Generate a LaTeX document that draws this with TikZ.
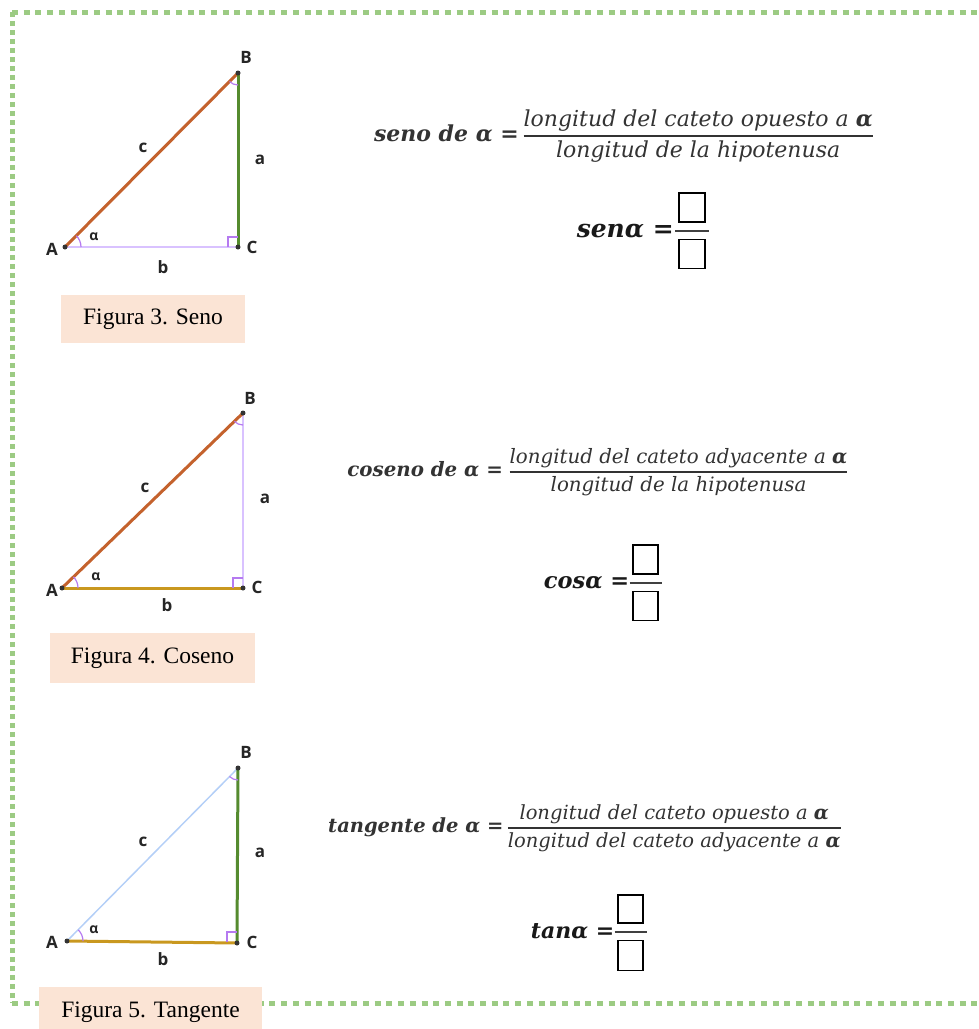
\RequirePackage{fix-cm}
\documentclass[tikz,border=0pt]{standalone}
\usepackage{amsmath, amssymb}
\usepackage{fontspec}
\usepackage{xcolor}
\usepackage{tikz}
\usetikzlibrary{positioning, calc}
\newfontfamily\labelfont{Open Sans}
\newfontfamily\captionfont{Liberation Serif}
\newfontfamily\eqfont{DejaVu Serif}
\definecolor{dotgreen}{HTML}{9CCB83}
\definecolor{hypo}{HTML}{C4622D}
\definecolor{opp}{HTML}{558B2F}
\definecolor{adj}{HTML}{C9981F}
\definecolor{lavender}{HTML}{D9C2FF}
\definecolor{markpurple}{HTML}{B57AF0}
\definecolor{skyline}{HTML}{B4CFF7}
\definecolor{capfill}{HTML}{FBE4D5}

\begin{document}
\begin{tikzpicture}[x=1pt, y=1pt,
  side/.style={line width=3pt},
  thinside/.style={line width=1.5pt, lavender},
  angmark/.style={line width=1.2pt, markpurple},
  vertex/.style={circle, fill=black!80, inner sep=0pt, minimum size=5pt},
  lbl/.style={font=\labelfont\bfseries\fontsize{17}{20}\selectfont, text=black!85, inner sep=1pt},
  alph/.style={font=\labelfont\bfseries\fontsize{14}{16}\selectfont, text=black!85, inner sep=1pt},
  figcap/.style={rectangle, fill=capfill, font=\captionfont\fontsize{23.5}{27}\selectfont, inner sep=0pt},
  eqn/.style={font=\eqfont\itshape\fontsize{#1}{#1}\selectfont, text=black!80, inner sep=0pt},
  eqn/.default=19.5,
  short/.style={font=\eqfont\bfseries\itshape\fontsize{#1}{#1}\selectfont, text=black!90, inner sep=0pt},
  short/.default=25,
  blank/.style={rectangle, draw=black, line width=1.6pt, minimum width=26pt, minimum height=29pt, inner sep=0pt},
  bar/.style={line width=1.8pt, black!75}
]
  \useasboundingbox (0,0) rectangle (979,-1029);

  % Dotted frame
  \draw[dotgreen, line width=5pt, dash pattern=on 6pt off 5.7pt] (12,-1003) -- (995,-1003);
  \draw[dotgreen, line width=5pt, dash pattern=on 6pt off 5.7pt] (12,-12) -- (995,-12);
  \draw[dotgreen, line width=5pt, dash pattern=on 5pt off 4pt] (12,-12) -- (12,-1003);

  % Figura 3: seno
  \coordinate (A1) at (65,-247);
  \coordinate (B1) at (238,-73);
  \coordinate (C1) at (238,-247);
  \draw[thinside] (A1) -- (C1);
  \draw[side, hypo] (A1) -- (B1);
  \draw[side, opp] (C1) -- (B1);
  \draw[angmark] ($(A1)!16pt!(C1)$) arc[start angle=0, end angle=45, radius=16pt];
  \draw[angmark] (B1) ++(225:12pt) arc[start angle=225, end angle=270, radius=12pt];
  \draw[angmark] ($(C1)+(-10,0)$) -- ++(0,10) -- ++(10,0);
  \foreach \p in {A1,B1,C1} \node[vertex] at (\p) {};
  \node[lbl] (tA1) at (52,-249) {A};
  \node[lbl] (tB1) at (246,-57) {B};
  \node[lbl] (tC1) at (252,-247) {C};
  \node[lbl] (ta1) at (260,-160) {a};
  \node[lbl] (tb1) at (163,-267) {b};
  \node[lbl] (tc1) at (143,-148) {c};
  \node[alph] (al1) at (94,-237) {α};
  \node[figcap, minimum width=184pt, minimum height=48pt] (fig3) at (153,-319) {Figura 3. Seno};

  \node[eqn=22] (seno) at (624,-136) {$\text{\bfseries seno de α =}\,\genfrac{}{}{1.4pt}{0}{\text{longitud del cateto opuesto a \bfseries α}}{\text{longitud de la hipotenusa}}$};
  \node[blank] (num1) at (692,-207.5) {};
  \node[blank, below=16pt of num1] (den1) {};
  \coordinate (bar1) at ($(num1.south)!0.5!(den1.north)$);
  \draw[bar] ([xshift=-17pt]bar1) -- ([xshift=17pt]bar1);
  \node[short, anchor=east] (sen) at ([xshift=-18pt]bar1) {senα =};

  % Figura 4: coseno
  \coordinate (A2) at (62,-588);
  \coordinate (B2) at (243,-413);
  \coordinate (C2) at (243,-588);
  \draw[thinside] (C2) -- (B2);
  \draw[side, hypo] (A2) -- (B2);
  \draw[side, adj] (A2) -- (C2);
  \draw[angmark] ($(A2)!16pt!(C2)$) arc[start angle=0, end angle=44, radius=16pt];
  \draw[angmark] (B2) ++(224:12pt) arc[start angle=224, end angle=270, radius=12pt];
  \draw[angmark] ($(C2)+(-10,0)$) -- ++(0,10) -- ++(10,0);
  \foreach \p in {A2,B2,C2} \node[vertex] at (\p) {};
  \node[lbl] (tA2) at (52,-590) {A};
  \node[lbl] (tB2) at (250,-398) {B};
  \node[lbl] (tC2) at (257,-587) {C};
  \node[lbl] (ta2) at (265,-499) {a};
  \node[lbl] (tb2) at (167,-605) {b};
  \node[lbl] (tc2) at (145,-488) {c};
  \node[alph] (al2) at (96,-577) {α};
  \node[figcap, minimum width=205pt, minimum height=50pt] (fig4) at (152.5,-658) {Figura 4. Coseno};

  \node[eqn=19.8] (coseno) at (598,-472) {$\text{\bfseries coseno de α =}\;\genfrac{}{}{1.3pt}{0}{\text{longitud del cateto adyacente a \bfseries α}}{\text{longitud de la hipotenusa}}$};
  \node[blank, minimum width=25pt] (num2) at (645.5,-559.5) {};
  \node[blank, minimum width=25pt, below=16pt of num2] (den2) {};
  \coordinate (bar2) at ($(num2.south)!0.5!(den2.north)$);
  \draw[bar] ([xshift=-16pt]bar2) -- ([xshift=16pt]bar2);
  \node[short=22.5, anchor=east] (cos) at ([xshift=-16pt]bar2) {cosα =};

  % Figura 5: tangente
  \coordinate (A3) at (67,-941);
  \coordinate (B3) at (238,-768);
  \coordinate (C3) at (237,-943);
  \draw[line width=1.5pt, skyline] (A3) -- (B3);
  \draw[side, adj] (A3) -- (C3);
  \draw[side, opp] (C3) -- (B3);
  \draw[angmark] ($(A3)!16pt!(C3)$) arc[start angle=0, end angle=45, radius=16pt];
  \draw[angmark] (B3) ++(225:12pt) arc[start angle=225, end angle=270, radius=12pt];
  \draw[angmark] ($(C3)+(-10,1)$) -- ++(0,10) -- ++(10,0);
  \foreach \p in {A3,B3,C3} \node[vertex] at (\p) {};
  \node[lbl] (tA3) at (52,-942) {A};
  \node[lbl] (tB3) at (246,-752) {B};
  \node[lbl] (tC3) at (252,-942) {C};
  \node[lbl] (ta3) at (260,-853) {a};
  \node[lbl] (tb3) at (163,-959) {b};
  \node[lbl] (tc3) at (143,-842) {c};
  \node[alph] (al3) at (94,-930) {α};
  \node[figcap, minimum width=223pt, minimum height=50pt] (fig5) at (150.5,-1012) {Figura 5. Tangente};

  \node[eqn] (tangente) at (585,-828) {$\text{\bfseries tangente de α =}\,\genfrac{}{}{1.3pt}{0}{\text{longitud del cateto opuesto a \bfseries α}}{\text{longitud del cateto adyacente a \bfseries α}}$};
  \node[blank, minimum width=25pt, minimum height=28pt] (num3) at (630.5,-909) {};
  \node[blank, minimum width=25pt, minimum height=30pt, below=16pt of num3] (den3) {};
  \coordinate (bar3) at ($(num3.south)!0.5!(den3.north)$);
  \draw[bar] ([xshift=-16pt]bar3) -- ([xshift=16pt]bar3);
  \node[short=22, anchor=east] (tan) at ([xshift=-16pt]bar3) {tanα =};

\end{tikzpicture}
\end{document}
